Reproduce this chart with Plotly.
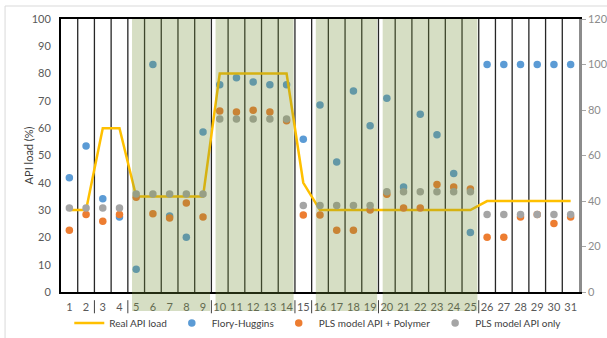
import plotly.graph_objects as go

# Sample numbers 1..31
categories = list(range(1, 32))

# Real API load (%), left axis
real_api_load = [30, 30, 60, 60, 35, 35, 35, 35, 35, 80, 80, 80, 80, 80, 40,
                 30, 30, 30, 30, 30, 30, 30, 30, 30, 30,
                 33.3, 33.3, 33.3, 33.3, 33.3, 33.3]

# Flory-Huggins prediction, right axis (capped at 100)
flory_huggins = [50.2, 64.2, 41.0, 33.0, 10.0, 100, 33.4, 24.1, 70.3, 91.1,
                 94.2, 92.3, 91.1, 91.1, 67.1, 82.2, 57.1, 88.3, 73.1, 85.2,
                 46.2, 78.1, 69.1, 52.1, 26.1, 100, 100, 100, 100, 100, 100]

# PLS model predictions (%), left axis
pls_api_polymer = [22.6, 28.4, 25.9, 28.4, 34.7, 28.7, 27.1, 32.6, 27.5, 66.3,
                   65.9, 66.6, 65.9, 62.7, 28.2, 28.2, 22.6, 22.6, 30.0, 35.8,
                   30.8, 30.8, 39.4, 38.5, 37.7, 20.1, 20.1, 27.5, 28.4, 25.1, 27.5]
pls_api_only = [30.8, 30.8, 30.8, 30.8, 35.9, 35.9, 35.9, 35.9, 35.9, 63.4,
                63.4, 63.4, 63.4, 63.4, 31.7, 31.7, 31.7, 31.7, 31.7, 36.7,
                36.7, 36.7, 36.7, 36.7, 36.7, 28.4, 28.4, 28.4, 28.4, 28.4, 28.4]

# Sample groups along the x axis (first, last); shaded ones are highlighted
label_groups = [(1, 2), (3, 4), (5, 9), (10, 14), (15, 15), (16, 19), (20, 25), (26, 31)]
shaded_groups = [(5, 9), (10, 14), (16, 19), (20, 25)]

left_ticks = list(range(0, 101, 10))
right_ticks = list(range(0, 121, 20))

fig = go.Figure()

fig.add_trace(go.Scatter(
    x=categories, y=flory_huggins, yaxis="y2", mode="markers",
    name="Flory-Huggins", marker=dict(color="#5B9BD5", size=7.5),
    legendrank=2))
fig.add_trace(go.Scatter(
    x=categories, y=real_api_load, yaxis="y", mode="lines",
    name="Real API load", line=dict(color="#FFC000", width=2.5),
    legendrank=1))
fig.add_trace(go.Scatter(
    x=categories, y=pls_api_polymer, yaxis="y", mode="markers",
    name="PLS model API + Polymer", marker=dict(color="#ED7D31", size=7.5),
    legendrank=3))
fig.add_trace(go.Scatter(
    x=categories, y=pls_api_only, yaxis="y", mode="markers",
    name="PLS model API only", marker=dict(color="#A5A5A5", size=7.5),
    legendrank=4))

shapes = []
# dividing lines between samples
for c in categories[:-1]:
    shapes.append(dict(type="line", xref="x", yref="paper", x0=c + 0.5, x1=c + 0.5,
                       y0=0, y1=1, layer="below",
                       line=dict(color="#262626", width=1.3)))
# separators between label groups, below the axis
for (a, b), (c, d) in zip(label_groups[:-1], label_groups[1:]):
    shapes.append(dict(type="line", xref="x", yref="paper", x0=b + 0.5, x1=b + 0.5,
                       y0=-0.03, y1=-0.078, layer="above",
                       line=dict(color="#404040", width=1)))
# translucent green highlight over shaded groups
for a, b in shaded_groups:
    shapes.append(dict(type="rect", xref="x", yref="paper",
                       x0=a - 0.25, x1=b + 0.42, y0=-0.07, y1=1,
                       layer="above", line=dict(width=0),
                       fillcolor="rgba(119,147,60,0.3)"))
# outer chart frame
shapes.append(dict(type="line", xref="paper", yref="paper", x0=-0.108, x1=1.06,
                   y0=1.0476, y1=1.0476, line=dict(color="#D9D9D9", width=1)))
shapes.append(dict(type="line", xref="paper", yref="paper", x0=-0.108, x1=-0.108,
                   y0=1.0476, y1=-0.2, line=dict(color="#D9D9D9", width=1)))

fig.update_layout(
    width=607, height=338,
    margin=dict(l=61, r=28, t=19, b=46, autoexpand=False),
    paper_bgcolor="white", plot_bgcolor="white",
    font=dict(family="Lato, Arial, sans-serif", size=11, color="#595959"),
    showlegend=True,
    legend=dict(orientation="h", x=0.016, xanchor="left", y=-0.114, yanchor="middle",
                font=dict(size=10, color="#404040"), traceorder="normal",
                itemwidth=30, bgcolor="rgba(0,0,0,0)"),
    xaxis=dict(range=[0.5, 31.5], tickmode="array", tickvals=categories,
               ticktext=[str(c) for c in categories], showgrid=False, zeroline=False,
               showline=True, linecolor="black", linewidth=2, mirror=True,
               ticks="", ticklabelstandoff=4,
               tickfont=dict(size=11, color="#595959")),
    yaxis2=dict(range=[0, 120], tickvals=right_ticks, side="right", showgrid=False,
                zeroline=False, showline=True, linecolor="#8C8C8C", linewidth=2.5,
                ticks="outside", ticklen=4, tickcolor="#A6A6A6",
                tickfont=dict(size=11, color="#8C8C8C")),
    yaxis=dict(range=[0, 100], tickvals=left_ticks, overlaying="y2", side="left",
               showgrid=False, zeroline=False, showline=True, linecolor="black",
               linewidth=2, ticks="", ticklabelstandoff=6,
               tickfont=dict(size=11, color="#595959")),
    annotations=[dict(text="API load (%)", textangle=-90, xref="paper", yref="paper",
                      x=-0.062, y=0.5, xanchor="center", yanchor="middle",
                      showarrow=False, font=dict(size=11, color="#404040"))],
    shapes=shapes,
)

fig.write_html("out.html")
